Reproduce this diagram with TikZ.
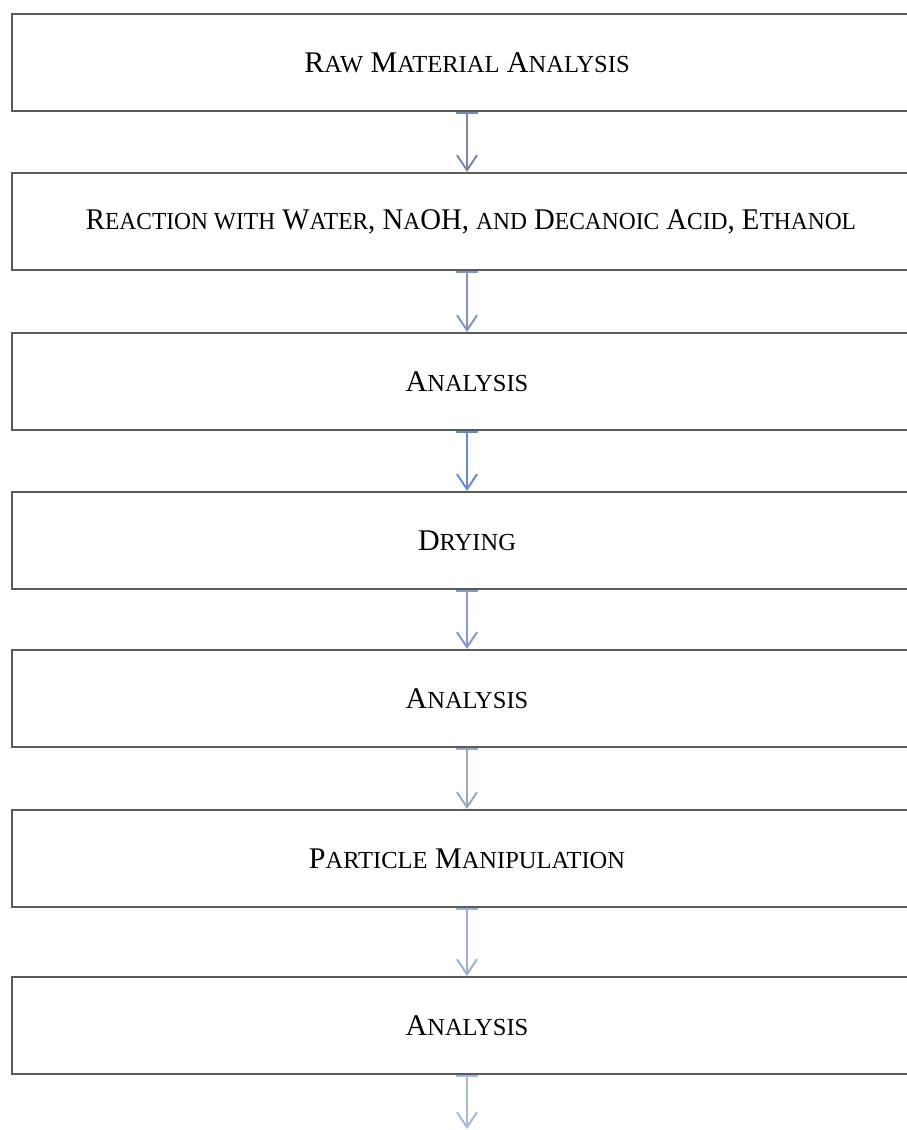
\documentclass[tikz,border=0pt]{standalone}
\usepackage{fontspec}
\setmainfont{Liberation Serif}
\usetikzlibrary{arrows.meta}
\newcommand\fsc[1]{{\fontsize{24.5}{28}\selectfont\MakeUppercase{#1}}}
\definecolor{boxgray}{HTML}{5A5A5A}
\definecolor{arA}{HTML}{7C88A6}
\definecolor{arB}{HTML}{8494B8}
\definecolor{arC}{HTML}{6C8BC6}
\definecolor{arD}{HTML}{8799C8}
\definecolor{arE}{HTML}{9DA8C0}
\definecolor{arF}{HTML}{9EB2D8}
\definecolor{arG}{HTML}{A9B8D8}
\tikzset{
  stepbox/.style={draw=boxgray, line width=2pt, fill=white, minimum width=910pt,
    minimum height=97pt, inner sep=0pt, anchor=north,
    font=\fontsize{30}{34}\selectfont},
  flowarr/.style={line width=2pt, {Bar[width=22pt,line width=1.5pt]}-{Straight Barb[length=15pt,width=20pt,line width=2pt]}}
}
\begin{document}
\begin{tikzpicture}[x=1pt,y=-1pt]
\useasboundingbox (0,0) rectangle (906,1130);
\fill[white] (0,0) rectangle (906,1130);
\node[stepbox] (b1) at (467,13) {R\fsc{aw} M\fsc{aterial} A\fsc{nalysis}};
\node[stepbox] (b2) at (467,172) {\hspace*{8pt}\scalebox{0.958}[1]{R\fsc{eaction with} W\fsc{ater}, N\fsc{a}OH, \fsc{and} D\fsc{ecanoic} A\fsc{cid}, E\fsc{thanol}}};
\node[stepbox] (b3) at (467,332) {A\fsc{nalysis}};
\node[stepbox] (b4) at (467,491) {D\fsc{rying}};
\node[stepbox] (b5) at (467,649) {A\fsc{nalysis}};
\node[stepbox] (b6) at (467,809) {P\fsc{article} M\fsc{anipulation}};
\node[stepbox] (b7) at (467,976) {A\fsc{nalysis}};
\coordinate (end) at (467,1129);
\draw[flowarr, arA] (b1.south) -- (b2.north);
\draw[flowarr, arB] (b2.south) -- (b3.north);
\draw[flowarr, arC] (b3.south) -- (b4.north);
\draw[flowarr, arD] (b4.south) -- (b5.north);
\draw[flowarr, arE] (b5.south) -- (b6.north);
\draw[flowarr, arF] (b6.south) -- (b7.north);
\draw[flowarr, arG] (b7.south) -- (end);
\end{tikzpicture}
\end{document}
